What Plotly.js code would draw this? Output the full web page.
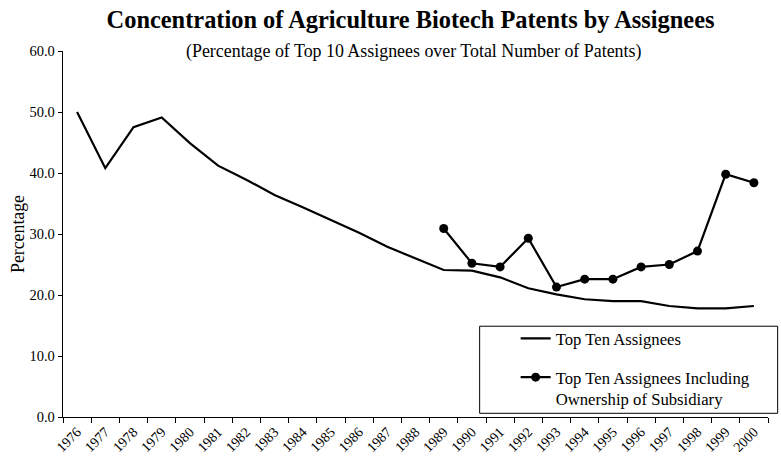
<!DOCTYPE html>
<html>
<head>
<meta charset="utf-8">
<script src="https://cdn.plot.ly/plotly-3.0.1.min.js"></script>
<style>html,body{margin:0;padding:0;background:#fff;}#chart{width:781px;height:461px;}</style>
</head>
<body>
<div id="chart"></div>
<script>
var years = ['1976','1977','1978','1979','1980','1981','1982','1983','1984','1985','1986','1987','1988',
             '1989','1990','1991','1992','1993','1994','1995','1996','1997','1998','1999','2000'];
var topTen = [50.0, 40.8, 47.5, 49.1, 44.9, 41.2, 38.9, 36.4, 34.4, 32.3, 30.2, 27.9, 26.0,
              24.1, 24.0, 22.9, 21.1, 20.1, 19.3, 19.0, 19.0, 18.2, 17.8, 17.8, 18.2];
var topTenSubsidiary = [null, null, null, null, null, null, null, null, null, null, null, null, null,
              30.9, 25.2, 24.6, 29.3, 21.3, 22.6, 22.6, 24.6, 25.0, 27.2, 39.8, 38.4];
var yTicks = [0, 10, 20, 30, 40, 50, 60];

var serif = 'Liberation Serif';

var traces = [
  {
    x: years, y: topTen, type: 'scatter', mode: 'lines',
    name: 'Top Ten Assignees', legendgroup: 'a',
    line: {color: '#000', width: 2.2}
  },
  {
    x: years, y: topTenSubsidiary, type: 'scatter', mode: 'lines+markers',
    name: 'Top Ten Assignees Including<br>Ownership of Subsidiary', legendgroup: 'b',
    line: {color: '#000', width: 2.2},
    marker: {color: '#000', size: 9, symbol: 'circle'},
    connectgaps: false
  }
];

var layout = {
  width: 781, height: 461,
  margin: {l: 63.3, r: 12.7, t: 51, b: 44.3},
  paper_bgcolor: '#fff', plot_bgcolor: '#fff',
  font: {family: serif, color: '#000'},
  title: {
    text: 'Concentration of Agriculture Biotech Patents by Assignees',
    font: {family: serif, size: 24.4, weight: 'bold', color: '#000'},
    xref: 'paper', x: 0.493, xanchor: 'center',
    yref: 'container', y: 0.958, yanchor: 'middle'
  },
  annotations: [{
    text: '(Percentage of Top 10 Assignees over Total Number of Patents)',
    xref: 'paper', yref: 'paper', x: 0.497, y: 1.0, xanchor: 'center', yanchor: 'middle',
    showarrow: false, font: {family: serif, size: 17.9, color: '#000'}
  }],
  xaxis: {
    type: 'category', range: [-0.5, 24.5], tickson: 'boundaries',
    ticks: 'outside', ticklen: 5, tickcolor: '#000', tickwidth: 1,
    showline: true, linecolor: '#000', linewidth: 1.3,
    showgrid: false, zeroline: false,
    tickangle: -45, tickfont: {family: serif, size: 14, color: '#000'}
  },
  yaxis: {
    range: [0, 60], tickvals: yTicks, tickformat: '.1f',
    ticks: 'outside', ticklen: 4, tickcolor: '#000', tickwidth: 1,
    showline: true, linecolor: '#000', linewidth: 1.3,
    showgrid: false, zeroline: false,
    tickfont: {family: serif, size: 14.5, color: '#000'},
    title: {text: 'Percentage', font: {family: serif, size: 17.8, color: '#000'}, standoff: 0}
  },
  showlegend: true,
  legend: {
    x: 0.591, y: 0.262, xanchor: 'left', yanchor: 'top',
    bgcolor: 'rgba(0,0,0,0)', borderwidth: 0,
    font: {family: serif, size: 16.7, color: '#000'},
    traceorder: 'grouped', tracegroupgap: 14, valign: 'top', indentation: 36
  },
  shapes: [{
    type: 'rect', xref: 'paper', yref: 'paper',
    x0: 0.591, x1: 1.0137, y0: 0.0101, y1: 0.248,
    line: {color: '#000', width: 1}, fillcolor: 'rgba(0,0,0,0)'
  }]
};

Plotly.newPlot('chart', traces, layout, {displayModeBar: false, staticPlot: true});
</script>
</body>
</html>
